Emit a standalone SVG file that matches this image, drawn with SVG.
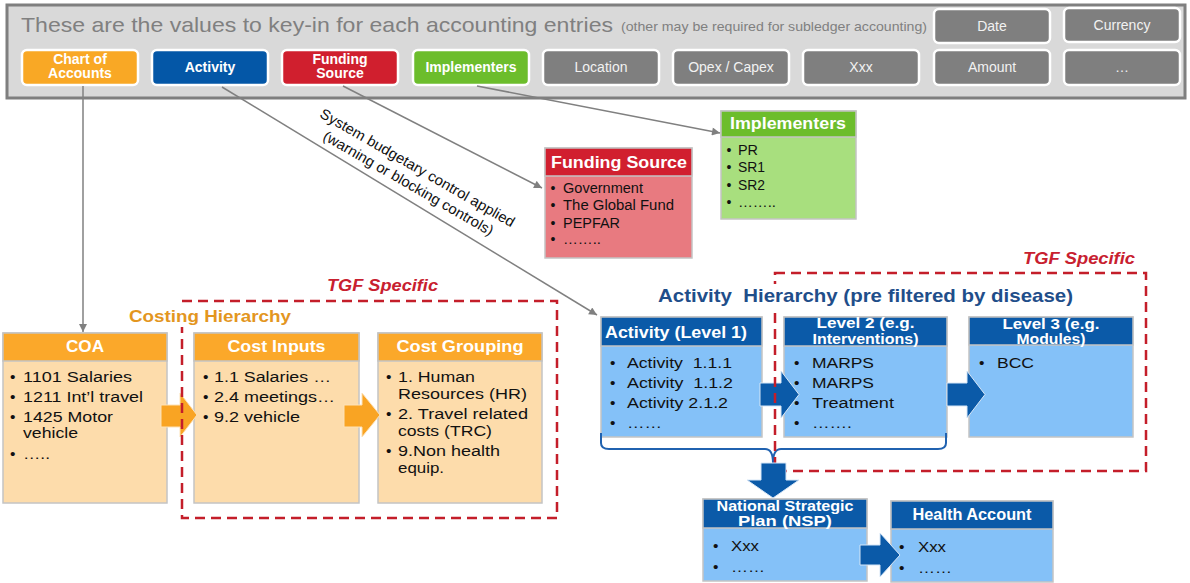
<svg xmlns="http://www.w3.org/2000/svg" width="1190" height="583" viewBox="0 0 1190 583">
  <defs>
    <marker id="arr" viewBox="0 0 10 10" refX="10" refY="5" markerWidth="10" markerHeight="8" markerUnits="userSpaceOnUse" orient="auto">
      <path d="M0,0 L10,5 L0,10 z" fill="#808080"/>
    </marker>
    <style>
      text { font-family: "Liberation Sans", Arial, sans-serif; }
      .btn { stroke: #ffffff; stroke-width: 2.5; }
      .bt { font-size: 14px; font-weight: bold; fill: #ffffff; text-anchor: middle; }
      .gt { font-size: 14px; fill: #f2f2f2; text-anchor: middle; }
      .box { stroke: #c4c4c4; stroke-width: 1.5; }
      .hd { font-size: 16px; font-weight: bold; fill: #ffffff; }
      .hd2 { font-size: 15px; font-weight: bold; fill: #ffffff; text-anchor: middle; }
      .c { text-anchor: middle; }
      .bl { font-size: 15.5px; fill: #111111; white-space: pre; }
      .sm { font-size: 14px; fill: #111111; }
      .tgf { font-size: 16px; font-weight: bold; font-style: italic; fill: #c8202f; }
      .dash { fill: none; stroke: #c41e2a; stroke-width: 2.5; stroke-dasharray: 10 6; }
      .conn { stroke: #808080; stroke-width: 1.5; fill: none; marker-end: url(#arr); }
      .oarrow { fill: #f9a423; stroke: #fde2b8; stroke-width: 1; }
      .barrow { fill: #0b5aa8; stroke: #d6e6f7; stroke-width: 1; }
      .orangeHd { fill: #fba82a; }
      .orangeBd { fill: #fddcab; }
      .blueHd { fill: #0b5aa8; }
      .blueBd { fill: #84c1f8; }
    </style>
  </defs>

  <rect width="1190" height="583" fill="#ffffff"/>

  <!-- accounting entry bar -->
  <g id="entry-bar">
    <rect x="7" y="5" width="1178" height="93" fill="#d9d9d9" stroke="#7f7f7f" stroke-width="3"/>
    <text x="21" y="32" font-size="21" fill="#808080" textLength="592" lengthAdjust="spacingAndGlyphs">These are the values to key-in for each accounting entries</text>
    <text x="621" y="31" font-size="13" fill="#808080" textLength="306" lengthAdjust="spacingAndGlyphs">(other may be required for subledger accounting)</text>
  </g>

  <g id="btn-chart-of-accounts">
    <rect class="btn" x="22" y="50" width="116" height="35" rx="5" fill="#f9a825"/>
    <text class="bt" x="80" y="64">Chart of</text>
    <text class="bt" x="80" y="78">Accounts</text>
  </g>
  <g id="btn-activity">
    <rect class="btn" x="152" y="50" width="116" height="35" rx="5" fill="#0457a7"/>
    <text class="bt" x="210" y="72">Activity</text>
  </g>
  <g id="btn-funding-source">
    <rect class="btn" x="282" y="50" width="116" height="35" rx="5" fill="#d01f2e"/>
    <text class="bt" x="340" y="64">Funding</text>
    <text class="bt" x="340" y="78">Source</text>
  </g>
  <g id="btn-implementers">
    <rect class="btn" x="413" y="50" width="116" height="35" rx="5" fill="#6cbd2c"/>
    <text class="bt" x="471" y="72">Implementers</text>
  </g>
  <g id="btn-location">
    <rect class="btn" x="543" y="50" width="116" height="35" rx="5" fill="#7f7f7f"/>
    <text class="gt" x="601" y="72">Location</text>
  </g>
  <g id="btn-opex-capex">
    <rect class="btn" x="673" y="50" width="116" height="35" rx="5" fill="#7f7f7f"/>
    <text class="gt" x="731" y="72">Opex / Capex</text>
  </g>
  <g id="btn-xxx">
    <rect class="btn" x="803" y="50" width="116" height="35" rx="5" fill="#7f7f7f"/>
    <text class="gt" x="861" y="72">Xxx</text>
  </g>
  <g id="btn-amount">
    <rect class="btn" x="934" y="50" width="116" height="35" rx="5" fill="#7f7f7f"/>
    <text class="gt" x="992" y="72">Amount</text>
  </g>
  <g id="btn-more">
    <rect class="btn" x="1064" y="50" width="116" height="35" rx="5" fill="#7f7f7f"/>
    <text class="gt" x="1122" y="72">…</text>
  </g>
  <g id="btn-date">
    <rect class="btn" x="934" y="9" width="116" height="34" rx="5" fill="#7f7f7f"/>
    <text class="gt" x="992" y="31">Date</text>
  </g>
  <g id="btn-currency">
    <rect class="btn" x="1064" y="8" width="116" height="34" rx="5" fill="#7f7f7f"/>
    <text class="gt" x="1122" y="30">Currency</text>
  </g>

  <!-- funding source list -->
  <g id="funding-source">
    <rect class="box" x="545" y="148" width="147" height="110" fill="#e87a80"/>
    <rect class="box" x="545" y="148" width="147" height="28" fill="#d11f2f"/>
    <text class="hd" x="551" y="168" textLength="136" lengthAdjust="spacingAndGlyphs">Funding Source</text>
    <text class="sm" x="550.5" y="193">•</text>
    <text class="sm" x="563" y="193" textLength="80" lengthAdjust="spacingAndGlyphs">Government</text>
    <text class="sm" x="550.5" y="210">•</text>
    <text class="sm" x="563" y="210" textLength="111" lengthAdjust="spacingAndGlyphs">The Global Fund</text>
    <text class="sm" x="550.5" y="227.5">•</text>
    <text class="sm" x="563" y="227.5" textLength="57" lengthAdjust="spacingAndGlyphs">PEPFAR</text>
    <text class="sm" x="550.5" y="244">•</text>
    <text class="sm" x="563" y="244" textLength="38" lengthAdjust="spacingAndGlyphs">……..</text>
  </g>

  <!-- implementers list -->
  <g id="implementers">
    <rect class="box" x="721" y="111" width="135" height="108" fill="#a8df7e"/>
    <rect class="box" x="721" y="111" width="135" height="26" fill="#6cbd2c"/>
    <text class="hd" x="730" y="129" textLength="116" lengthAdjust="spacingAndGlyphs">Implementers</text>
    <text class="sm" x="726.5" y="155">•</text>
    <text class="sm" x="738" y="155" textLength="20" lengthAdjust="spacingAndGlyphs">PR</text>
    <text class="sm" x="726.5" y="172">•</text>
    <text class="sm" x="738" y="172" textLength="27" lengthAdjust="spacingAndGlyphs">SR1</text>
    <text class="sm" x="726.5" y="190">•</text>
    <text class="sm" x="738" y="190" textLength="27" lengthAdjust="spacingAndGlyphs">SR2</text>
    <text class="sm" x="726.5" y="207">•</text>
    <text class="sm" x="738" y="207" textLength="38" lengthAdjust="spacingAndGlyphs">……..</text>
  </g>

  <g id="coa">
    <rect class="box orangeBd" x="3" y="333" width="164" height="170"/>
    <rect class="box orangeHd" x="3" y="333" width="164" height="28"/>
    <text class="hd c" x="85" y="352" textLength="38" lengthAdjust="spacingAndGlyphs">COA</text>
    <text class="bl" x="10" y="382">•</text>
    <text class="bl" x="23" y="382" textLength="109" lengthAdjust="spacingAndGlyphs">1101 Salaries</text>
    <text class="bl" x="10" y="402">•</text>
    <text class="bl" x="23" y="402" textLength="120" lengthAdjust="spacingAndGlyphs">1211 Int’l travel</text>
    <text class="bl" x="10" y="422">•</text>
    <text class="bl" x="23" y="422" textLength="90" lengthAdjust="spacingAndGlyphs">1425 Motor</text>
    <text class="bl" x="23" y="438" textLength="55" lengthAdjust="spacingAndGlyphs">vehicle</text>
    <text class="bl" x="10" y="459">•</text>
    <text class="bl" x="23" y="459" textLength="27" lengthAdjust="spacingAndGlyphs">…..</text>
  </g>

  <g id="cost-inputs">
    <rect class="box orangeBd" x="194" y="333" width="165" height="170"/>
    <rect class="box orangeHd" x="194" y="333" width="165" height="28"/>
    <text class="hd c" x="276.5" y="352" textLength="98" lengthAdjust="spacingAndGlyphs">Cost Inputs</text>
    <text class="bl" x="203" y="382">•</text>
    <text class="bl" x="214" y="382" textLength="117" lengthAdjust="spacingAndGlyphs">1.1 Salaries …</text>
    <text class="bl" x="203" y="402">•</text>
    <text class="bl" x="214" y="402" textLength="121" lengthAdjust="spacingAndGlyphs">2.4 meetings…</text>
    <text class="bl" x="203" y="422">•</text>
    <text class="bl" x="214" y="422" textLength="86" lengthAdjust="spacingAndGlyphs">9.2 vehicle</text>
  </g>

  <g id="cost-grouping">
    <rect class="box orangeBd" x="378" y="333" width="164" height="170"/>
    <rect class="box orangeHd" x="378" y="333" width="164" height="28"/>
    <text class="hd c" x="460" y="352" textLength="127" lengthAdjust="spacingAndGlyphs">Cost Grouping</text>
    <text class="bl" x="386" y="382">•</text>
    <text class="bl" x="398" y="382" textLength="77" lengthAdjust="spacingAndGlyphs">1. Human</text>
    <text class="bl" x="398" y="399" textLength="129" lengthAdjust="spacingAndGlyphs">Resources (HR)</text>
    <text class="bl" x="386" y="419">•</text>
    <text class="bl" x="398" y="419" textLength="130" lengthAdjust="spacingAndGlyphs">2. Travel related</text>
    <text class="bl" x="398" y="436" textLength="94" lengthAdjust="spacingAndGlyphs">costs (TRC)</text>
    <text class="bl" x="386" y="456">•</text>
    <text class="bl" x="398" y="456" textLength="102" lengthAdjust="spacingAndGlyphs">9.Non health</text>
    <text class="bl" x="398" y="473" textLength="46" lengthAdjust="spacingAndGlyphs">equip.</text>
  </g>

  <g id="activity-level1">
    <rect class="box blueBd" x="601" y="317" width="161" height="120"/>
    <rect class="box blueHd" x="601" y="317" width="161" height="29"/>
    <text class="hd" x="605" y="338" textLength="142" lengthAdjust="spacingAndGlyphs">Activity (Level 1)</text>
    <text class="bl" x="610" y="368">•</text>
    <text class="bl" x="627" y="368" textLength="105" lengthAdjust="spacingAndGlyphs">Activity  1.1.1</text>
    <text class="bl" x="610" y="388">•</text>
    <text class="bl" x="627" y="388" textLength="106" lengthAdjust="spacingAndGlyphs">Activity  1.1.2</text>
    <text class="bl" x="610" y="408">•</text>
    <text class="bl" x="627" y="408" textLength="101" lengthAdjust="spacingAndGlyphs">Activity 2.1.2</text>
    <text class="bl" x="610" y="428">•</text>
    <text class="bl" x="627" y="428" textLength="35" lengthAdjust="spacingAndGlyphs">……</text>
  </g>

  <g id="activity-level2">
    <rect class="box blueBd" x="784" y="317" width="163" height="120"/>
    <rect class="box blueHd" x="784" y="317" width="163" height="29"/>
    <text class="hd2" x="865.5" y="328" textLength="98" lengthAdjust="spacingAndGlyphs">Level 2 (e.g.</text>
    <text class="hd2" x="865.5" y="344" textLength="106" lengthAdjust="spacingAndGlyphs">Interventions)</text>
    <text class="bl" x="794" y="368">•</text>
    <text class="bl" x="812" y="368" textLength="62" lengthAdjust="spacingAndGlyphs">MARPS</text>
    <text class="bl" x="794" y="388">•</text>
    <text class="bl" x="812" y="388" textLength="62" lengthAdjust="spacingAndGlyphs">MARPS</text>
    <text class="bl" x="794" y="408">•</text>
    <text class="bl" x="812" y="408" textLength="82" lengthAdjust="spacingAndGlyphs">Treatment</text>
    <text class="bl" x="794" y="428">•</text>
    <text class="bl" x="812" y="428" textLength="40" lengthAdjust="spacingAndGlyphs">…….</text>
  </g>

  <g id="activity-level3">
    <rect class="box blueBd" x="969" y="317" width="164" height="120"/>
    <rect class="box blueHd" x="969" y="317" width="164" height="28"/>
    <text class="hd2" x="1051" y="329" textLength="97" lengthAdjust="spacingAndGlyphs">Level 3 (e.g.</text>
    <text class="hd2" x="1051" y="344" textLength="69" lengthAdjust="spacingAndGlyphs">Modules)</text>
    <text class="bl" x="979" y="368">•</text>
    <text class="bl" x="997" y="368" textLength="37" lengthAdjust="spacingAndGlyphs">BCC</text>
  </g>

  <g id="national-strategic-plan">
    <rect class="box blueBd" x="703" y="499" width="164" height="82"/>
    <rect class="box blueHd" x="703" y="499" width="164" height="29"/>
    <text class="hd2" x="785" y="511" textLength="137" lengthAdjust="spacingAndGlyphs">National Strategic</text>
    <text class="hd2" x="785" y="526" textLength="94" lengthAdjust="spacingAndGlyphs">Plan (NSP)</text>
    <text class="bl" x="713" y="551">•</text>
    <text class="bl" x="731" y="551" textLength="28" lengthAdjust="spacingAndGlyphs">Xxx</text>
    <text class="bl" x="713" y="572">•</text>
    <text class="bl" x="731" y="572" textLength="34" lengthAdjust="spacingAndGlyphs">……</text>
  </g>

  <g id="health-account">
    <rect class="box blueBd" x="891" y="501" width="162" height="81"/>
    <rect class="box blueHd" x="891" y="501" width="162" height="28"/>
    <text class="hd c" x="972" y="520" textLength="119" lengthAdjust="spacingAndGlyphs">Health Account</text>
    <text class="bl" x="899" y="552">•</text>
    <text class="bl" x="918" y="552" textLength="28" lengthAdjust="spacingAndGlyphs">Xxx</text>
    <text class="bl" x="899" y="573">•</text>
    <text class="bl" x="918" y="573" textLength="34" lengthAdjust="spacingAndGlyphs">……</text>
  </g>

  <!-- connectors, block arrows and the connector label -->
  <g id="connectors">
    <line class="conn" x1="83" y1="86" x2="83" y2="332"/>
    <line class="conn" x1="222" y1="87" x2="597" y2="315"/>
    <line class="conn" x1="343" y1="86" x2="542" y2="188"/>
    <line class="conn" x1="477" y1="86" x2="720" y2="133"/>
    <g transform="translate(415,172) rotate(30)" font-size="14.5" fill="#111111">
      <text class="c" x="0" y="0" textLength="222" lengthAdjust="spacingAndGlyphs">System budgetary control applied</text>
      <text class="c" x="0" y="18" textLength="194" lengthAdjust="spacingAndGlyphs">(warning or blocking controls)</text>
    </g>
    <polygon class="oarrow" points="161,405 180,405 180,393 197,415 180,437 180,427 161,427"/>
    <polygon class="oarrow" points="344,405 362,405 362,393 380,415 362,437 362,427 344,427"/>
    <polygon class="barrow" points="760,383 781,383 781,371 799,394.5 781,418 781,406 760,406"/>
    <polygon class="barrow" points="947,383 967,383 967,371 985,394.5 967,418 967,406 947,406"/>
    <polygon class="barrow" points="860,545 880,545 880,533 900,555 880,577 880,565 860,565"/>
    <path d="M601,433 L601,443 Q601,449 609,449 L765,449 Q773,449 773,463 Q773,449 781,449 L938,449 Q946,449 946,443 L946,433" fill="none" stroke="#2062b0" stroke-width="2"/>
  </g>

  <!-- TGF specific scopes -->
  <g id="tgf-costing">
    <rect class="dash" x="182" y="301" width="375" height="217"/>
    <text class="tgf" x="327" y="291" textLength="111" lengthAdjust="spacingAndGlyphs">TGF Specific</text>
  </g>
  <g id="tgf-activity">
    <rect class="dash" x="775" y="273" width="371" height="198"/>
    <text class="tgf" x="1023" y="264" textLength="112" lengthAdjust="spacingAndGlyphs">TGF Specific</text>
  </g>

  <!-- section titles sit on white text boxes over the dashed scopes -->
  <g id="costing-title">
    <rect x="125" y="305" width="170" height="22" fill="#ffffff"/>
    <text x="129" y="322" font-size="17" font-weight="bold" fill="#e3961f" textLength="162" lengthAdjust="spacingAndGlyphs">Costing Hierarchy</text>
  </g>
  <g id="activity-title">
    <rect x="654" y="284" width="424" height="24" fill="#ffffff"/>
    <text x="658" y="302" font-size="19" font-weight="bold" fill="#1f4e8a" style="white-space:pre" textLength="415" lengthAdjust="spacingAndGlyphs">Activity  Hierarchy (pre filtered by disease)</text>
  </g>

  <!-- roll-up arrow into the national strategic plan -->
  <g id="rollup-arrow">
    <polygon class="barrow" points="761,463 786,463 786,480 799,480 773,498 747,480 761,480"/>
  </g>
</svg>
